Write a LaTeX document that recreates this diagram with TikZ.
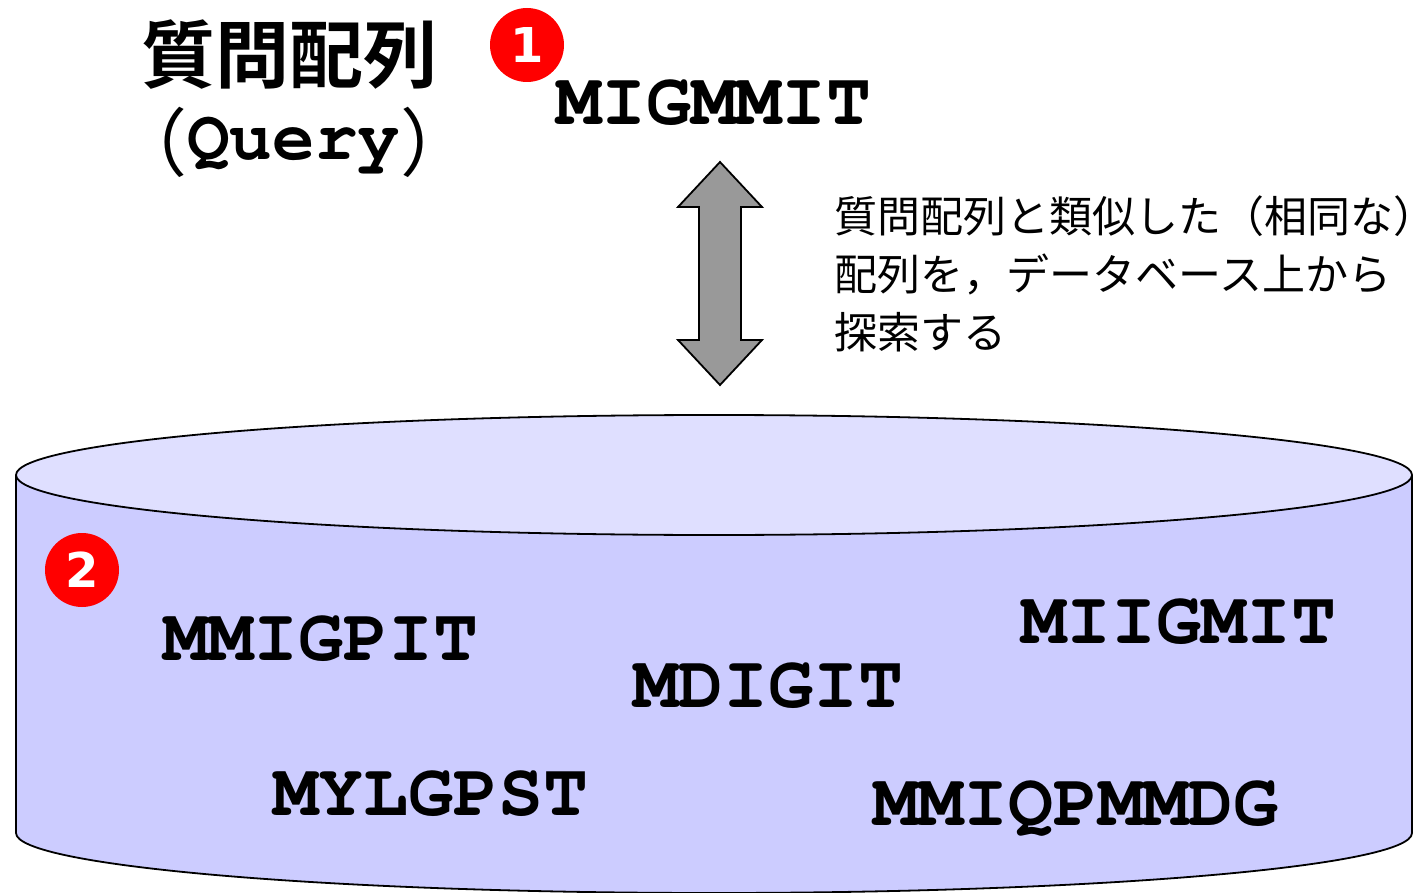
\documentclass[tikz,border=0pt]{standalone}
\usepackage{fontspec}
\newfontfamily\jp[BoldFont={Noto Sans CJK JP Bold}]{Noto Sans CJK JP}
\newfontfamily\jph[RawFeature=+halt]{Noto Sans CJK JP}
\newfontfamily\mono[Extension=.otf, UprightFont=*-regular, BoldFont=*-bold]{texgyrecursor}
\newfontfamily\numfont{DejaVu Sans}
\definecolor{topfill}{HTML}{DFDFFF}
\definecolor{bodyfill}{HTML}{CCCCFF}
\definecolor{arrowgray}{HTML}{999999}
\definecolor{badgered}{HTML}{FF0000}
\tikzset{
  seq/.style={anchor=base west, inner sep=0pt, font=\mono\bfseries\fontsize{75}{75}\selectfont},
  badge/.style={circle, fill=badgered, text=white, minimum size=74pt, inner sep=0pt,
    font=\numfont\bfseries\fontsize{48}{48}\selectfont},
  outline/.style={draw=black, line width=1.8pt, line join=miter},
}
\begin{document}
\begin{tikzpicture}[x=1pt,y=1pt]
\useasboundingbox (0,0) rectangle (1424,-893);
% database cylinder
\fill[bodyfill] (16,-475) -- (16,-833) arc[start angle=180,end angle=360,x radius=698pt,y radius=60pt] -- (1412,-475) -- cycle;
\draw[outline] (16,-475) -- (16,-833) arc[start angle=180,end angle=360,x radius=698pt,y radius=60pt] -- (1412,-475);
\draw[outline, fill=topfill] (714,-475) ellipse[x radius=698pt, y radius=60pt];
% title
\node[inner sep=0pt, font=\jp\bfseries\fontsize{74}{74}\selectfont] (title) at (289,-55) {質問配列};
\node[anchor=base west, inner sep=0pt] (query) at (150,-160)
  {\raisebox{-11pt}{\jph\fontsize{74}{74}\selectfont （}{\mono\bfseries\fontsize{71}{71}\selectfont Query}\raisebox{-11pt}{\jph\fontsize{74}{74}\selectfont ）}};
% badges
\node[badge] (b1) at (527,-45) {1};
\node[badge] (b2) at (82,-570) {2};
% query sequence
\node[seq] (q) at (556,-125) {MIGMMIT};
% double arrow
\coordinate (atop) at (720,-162);
\coordinate (abot) at (720,-385);
\draw[outline, fill=arrowgray] (atop) -- (762,-207) -- (741,-207) -- (741,-340) -- (762,-340) -- (abot)
  -- (678,-340) -- (699,-340) -- (699,-207) -- (678,-207) -- cycle;
% description
\node[anchor=north west, inner sep=0pt, align=left, font=\jp\fontsize{43}{58}\selectfont] (desc) at (834,-195)
  {質問配列と類似した（相同な）\kern-0.45em\\配列を，データベース上から\\探索する};
% database sequences
\node[seq] (s1) at (163,-660) {MMIGPIT};
\node[seq] (s2) at (1021,-643) {MIIGMIT};
\node[seq] (s3) at (633,-707) {MDIGIT};
\node[seq] (s4) at (273,-815) {MYLGPST};
\node[seq] (s5) at (873,-825) {MMIQPMMDG};
\end{tikzpicture}
\end{document}
